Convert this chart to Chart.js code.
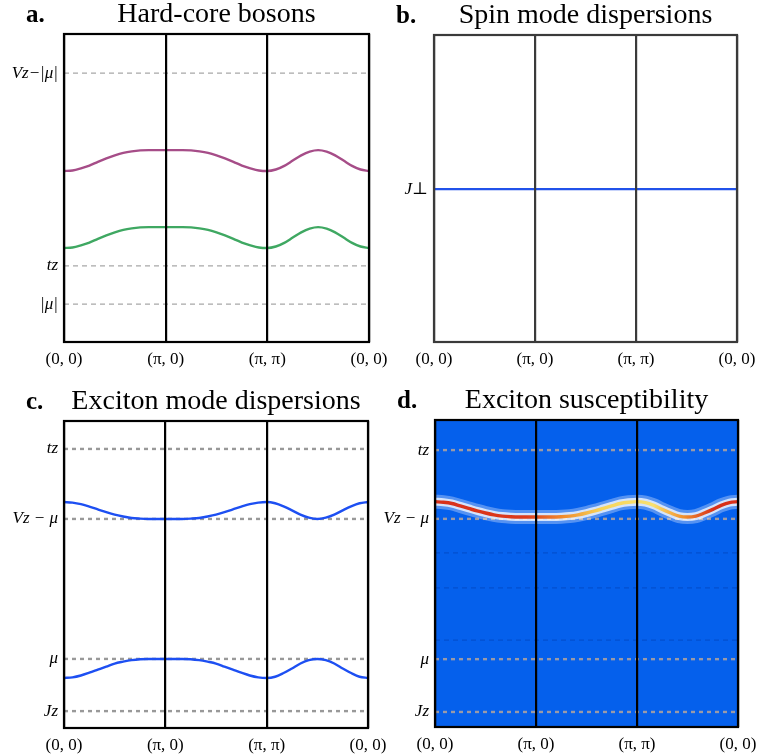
<!DOCTYPE html>
<html>
<head>
<meta charset="utf-8">
<script src="https://cdn.jsdelivr.net/npm/chart.js@4/dist/chart.umd.min.js"></script>
<style>
  html, body { margin: 0; padding: 0; background: #fff; overflow: hidden; }
  #wrap { position: relative; width: 758px; height: 756px; }
  canvas { position: absolute; }
</style>
</head>
<body>
<div id="wrap">
  <canvas id="pa" width="395" height="378" style="left:0;top:0"></canvas>
  <canvas id="pc" width="395" height="378" style="left:0;top:378px"></canvas>
  <canvas id="pb" width="379" height="378" style="left:379px;top:0"></canvas>
  <canvas id="pd" width="379" height="378" style="left:379px;top:378px"></canvas>
</div>
<script>
'use strict';

// ── Data ────────────────────────────────────────────────────────
// path (0,0) → (π,0) → (π,π) → (0,0), 12 steps per leg
const kPath = [0, 1, 2, 3, 4, 5, 6, 7, 8, 9, 10, 11, 12,
               13, 14, 15, 16, 17, 18, 19, 20, 21, 22, 23, 24,
               25, 26, 27, 28, 29, 30, 31, 32, 33, 34, 35, 36];
const xTicks = [0, 12, 24, 36];
const xTickLabels = ['(0, 0)', '(π, 0)', '(π, π)', '(0, 0)'];

// a. Hard-core bosons
const aLevels = [8.73, 2.47, 1.23];
const aLevelLabels = ['Vz−|μ|', 'tz', '|μ|'];
const aUpper = [5.55, 5.57, 5.64, 5.73, 5.85, 5.96, 6.06, 6.14, 6.19, 6.22, 6.23, 6.23, 6.23,
                6.23, 6.23, 6.22, 6.19, 6.14, 6.06, 5.96, 5.85, 5.73, 5.64, 5.57, 5.55,
                5.60, 5.72, 5.89, 6.06, 6.18, 6.23, 6.18, 6.06, 5.89, 5.72, 5.60, 5.55];
const aLower = [3.05, 3.07, 3.14, 3.23, 3.35, 3.46, 3.56, 3.64, 3.69, 3.72, 3.73, 3.73, 3.73,
                3.73, 3.73, 3.72, 3.69, 3.64, 3.56, 3.46, 3.35, 3.23, 3.14, 3.07, 3.05,
                3.10, 3.22, 3.39, 3.56, 3.68, 3.73, 3.68, 3.56, 3.39, 3.22, 3.10, 3.05];

// b. Spin mode dispersions
const bLevels = [4.98];
const bLevelLabels = ['J⊥'];
const bMode = [4.98, 4.98, 4.98, 4.98, 4.98, 4.98, 4.98, 4.98, 4.98, 4.98, 4.98, 4.98, 4.98,
               4.98, 4.98, 4.98, 4.98, 4.98, 4.98, 4.98, 4.98, 4.98, 4.98, 4.98, 4.98,
               4.98, 4.98, 4.98, 4.98, 4.98, 4.98, 4.98, 4.98, 4.98, 4.98, 4.98, 4.98];

// c. Exciton mode dispersions
const cLevels = [9.09, 6.81, 2.25, 0.55];
const cLevelLabels = ['tz', 'Vz − μ', 'μ', 'Jz'];
const cUpper = [7.36, 7.34, 7.29, 7.21, 7.12, 7.03, 6.95, 6.89, 6.84, 6.82, 6.81, 6.81, 6.81,
                6.81, 6.81, 6.82, 6.84, 6.89, 6.95, 7.03, 7.12, 7.21, 7.29, 7.34, 7.36,
                7.32, 7.22, 7.09, 6.95, 6.85, 6.81, 6.85, 6.95, 7.09, 7.22, 7.32, 7.36];
const cLower = [1.63, 1.65, 1.71, 1.80, 1.90, 2.00, 2.10, 2.16, 2.21, 2.24, 2.25, 2.25, 2.25,
                2.25, 2.25, 2.24, 2.21, 2.16, 2.10, 2.00, 1.90, 1.80, 1.71, 1.65, 1.63,
                1.67, 1.79, 1.94, 2.10, 2.21, 2.25, 2.21, 2.10, 1.94, 1.79, 1.67, 1.63];

// d. Exciton susceptibility
const dLevels = [9.02, 6.78, 2.21, 0.49];
const dLevelLabels = ['tz', 'Vz − μ', 'μ', 'Jz'];
const dFaintLevels = [5.67, 4.53, 2.83];
const dPeak = [7.34, 7.32, 7.28, 7.20, 7.12, 7.04, 6.97, 6.91, 6.87, 6.85, 6.84, 6.84, 6.84,
               6.84, 6.84, 6.85, 6.87, 6.91, 6.97, 7.04, 7.12, 7.20, 7.28, 7.32, 7.34,
               7.31, 7.22, 7.09, 6.97, 6.87, 6.84, 6.87, 6.97, 7.09, 7.22, 7.31, 7.34];

// ── Helpers ─────────────────────────────────────────────────────
const SERIF = "'Liberation Serif', 'DejaVu Serif', serif";

const pts = ys => kPath.map((k, i) => ({ x: k, y: ys[i] }));
const flat = v => [{ x: kPath[0], y: v }, { x: kPath[kPath.length - 1], y: v }];

function levelSet(v, color, width, dash) {
  return {
    data: flat(v), borderColor: color, borderWidth: width, borderDash: dash,
    pointRadius: 0, order: 10,
  };
}

function curve(ys, color, width, order = 0) {
  return {
    data: pts(ys), borderColor: color, borderWidth: width,
    pointRadius: 0, cubicInterpolationMode: 'monotone', order,
  };
}

// background, frame and panel titles
const panelPlugin = {
  id: 'panel',
  beforeDraw(chart, args, opts) {
    if (!opts.bg) return;
    const a = chart.chartArea, ctx = chart.ctx;
    ctx.save();
    ctx.fillStyle = opts.bg;
    ctx.fillRect(a.left, a.top, a.right - a.left, a.bottom - a.top);
    ctx.restore();
  },
  afterDraw(chart, args, opts) {
    const a = chart.chartArea, ctx = chart.ctx;
    ctx.save();
    ctx.strokeStyle = opts.frame || '#000';
    ctx.lineWidth = 2.2;
    ctx.strokeRect(a.left, a.top, a.right - a.left, a.bottom - a.top);
    ctx.fillStyle = '#000';
    ctx.textBaseline = 'alphabetic';
    ctx.font = `bold 25px ${SERIF}`;
    ctx.textAlign = 'left';
    ctx.fillText(opts.letter, a.left - 38, a.top - 12);
    ctx.font = `28px ${SERIF}`;
    ctx.textAlign = 'center';
    ctx.fillText(opts.title, (a.left + a.right) / 2, a.top - 12);
    ctx.restore();
  },
};

function makePanel(id, p) {
  return new Chart(document.getElementById(id), {
    type: 'line',
    data: { datasets: p.datasets },
    plugins: [panelPlugin],
    options: {
      responsive: false,
      animation: false,
      layout: { autoPadding: false, padding: { left: 0, right: p.padRight, top: p.padTop, bottom: 0 } },
      plugins: {
        legend: { display: false },
        tooltip: { enabled: false },
        panel: { letter: p.letter, title: p.title, bg: p.bg, frame: p.frame },
      },
      scales: {
        x: {
          type: 'linear', min: 0, max: 36,
          afterBuildTicks: s => { s.ticks = xTicks.map(v => ({ value: v })); },
          afterFit: s => { s.height = p.xHeight; s.paddingLeft = 0; s.paddingRight = 0; },
          grid: { color: p.frame || '#000', lineWidth: 2.2, drawTicks: false, z: 1 },
          border: { display: false },
          ticks: {
            padding: 7, color: '#000', maxRotation: 0,
            font: { family: SERIF, size: 17 },
            callback: (v, i) => xTickLabels[i],
          },
        },
        y: {
          type: 'linear', min: 0, max: 10,
          afterBuildTicks: s => { s.ticks = p.levels.map(v => ({ value: v })); },
          afterFit: s => { s.width = p.yWidth; s.paddingTop = 0; s.paddingBottom = 0; },
          grid: { display: false, drawTicks: false },
          border: { display: false },
          ticks: {
            padding: 6, color: '#000',
            font: { family: SERIF, size: 17, style: 'italic' },
            callback: (v, i) => p.levelLabels[i],
          },
        },
      },
    },
  });
}

// ── Panels ──────────────────────────────────────────────────────
makePanel('pa', {
  letter: 'a.', title: 'Hard-core bosons',
  yWidth: 64, xHeight: 36, padRight: 26, padTop: 34,
  levels: aLevels, levelLabels: aLevelLabels,
  datasets: [
    curve(aUpper, '#a64d88', 2.4),
    curve(aLower, '#3fa862', 2.4),
    ...aLevels.map(v => levelSet(v, '#a8a8a8', 1.3, [5, 4])),
  ],
});

makePanel('pb', {
  letter: 'b.', title: 'Spin mode dispersions',
  yWidth: 55, xHeight: 36, padRight: 21, padTop: 35,
  levels: bLevels, levelLabels: bLevelLabels, frame: '#3a3a3a',
  datasets: [curve(bMode, '#2152ea', 2.4)],
});

makePanel('pc', {
  letter: 'c.', title: 'Exciton mode dispersions',
  yWidth: 64, xHeight: 28, padRight: 27, padTop: 43,
  levels: cLevels, levelLabels: cLevelLabels,
  datasets: [
    curve(cUpper, '#1d4ff2', 2.4),
    curve(cLower, '#1d4ff2', 2.4),
    ...cLevels.map(v => levelSet(v, '#999999', 2.4, [4, 4])),
  ],
});

const dGradient = ctx => {
  const a = ctx.chart.chartArea;
  if (!a) return '#d8301a';
  const g = ctx.chart.ctx.createLinearGradient(a.left, 0, a.right, 0);
  g.addColorStop(0.00, '#d8301a');
  g.addColorStop(0.30, '#dc3a1c');
  g.addColorStop(0.42, '#f08a2c');
  g.addColorStop(0.55, '#f6d45a');
  g.addColorStop(0.72, '#f8e070');
  g.addColorStop(0.82, '#f0902e');
  g.addColorStop(0.92, '#d8301a');
  g.addColorStop(1.00, '#d8301a');
  return g;
};

makePanel('pd', {
  letter: 'd.', title: 'Exciton susceptibility',
  yWidth: 56, xHeight: 29, padRight: 20, padTop: 42,
  levels: dLevels, levelLabels: dLevelLabels, bg: '#0560ec',
  datasets: [
    curve(dPeak, dGradient, 3.4, 0),
    curve(dPeak, 'rgba(255,255,255,0.75)', 8, 1),
    curve(dPeak, 'rgba(235,242,255,0.35)', 14, 2),
    ...dLevels.map(v => levelSet(v, '#9a9aa8', 2.4, [4, 4])),
    ...dFaintLevels.map(v => levelSet(v, 'rgba(0,60,170,0.45)', 1.2, [5, 4])),
  ],
});
</script>
</body>
</html>
